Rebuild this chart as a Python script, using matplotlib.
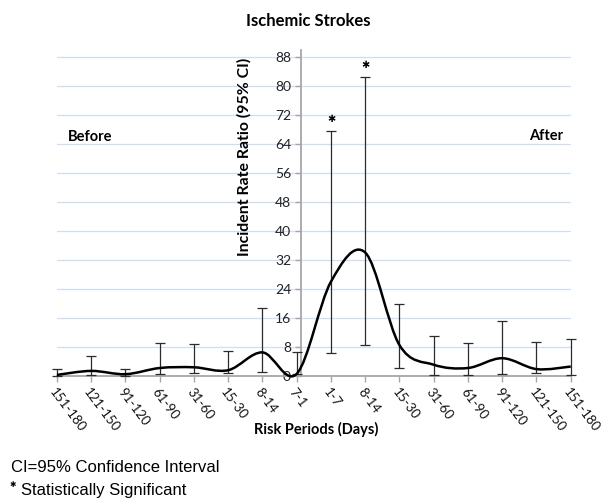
import matplotlib
matplotlib.use("Agg")
import matplotlib.pyplot as plt
from matplotlib.path import Path
from matplotlib.patches import PathPatch
import numpy as np

# ---- data ----
periods = ['151-180', '121-150', '91-120', '61-90', '31-60', '15-30', '8-14', '7-1',
           '1-7', '8-14', '15-30', '31-60', '61-90', '91-120', '121-150', '151-180']
irr = [0.3, 1.4, 0.5, 2.2, 2.4, 1.6, 6.5, 0.6, 26.0, 34.0, 8.5, 3.1, 2.2, 4.9, 1.9, 2.6]
ci_low = [0.05, 0.3, 0.1, 0.6, 0.7, 0.8, 1.1, 0.5, 6.3, 8.5, 2.2, 0.4, 0.3, 0.6, 0.7, 0.2]
ci_high = [1.9, 5.4, 2.0, 9.1, 8.7, 7.0, 18.7, 6.6, 67.6, 82.5, 19.7, 10.9, 9.2, 15.2, 9.4, 10.2]
significant = [False] * 8 + [True, True] + [False] * 6
y_ticks = list(range(0, 89, 8))

FONT = ['Lato', 'DejaVu Sans']
plt.rcParams['font.family'] = FONT

fig = plt.figure(figsize=(6.03, 4.98), dpi=100)
ax = fig.add_axes([0.0945, 0.245, 0.852, 0.6545])

x = np.arange(len(periods))
y = np.array(irr)

# smoothed line (Excel-style bezier through the points)
verts = [(x[0], y[0])]
codes = [Path.MOVETO]
n = len(x)
for i in range(n - 1):
    p0 = np.array([x[max(i - 1, 0)], y[max(i - 1, 0)]])
    p1 = np.array([x[i], y[i]])
    p2 = np.array([x[i + 1], y[i + 1]])
    p3 = np.array([x[min(i + 2, n - 1)], y[min(i + 2, n - 1)]])
    c1 = p1 + (p2 - p0) / 6.0
    c2 = p2 - (p3 - p1) / 6.0
    verts += [tuple(c1), tuple(c2), tuple(p2)]
    codes += [Path.CURVE4] * 3
ax.add_patch(PathPatch(Path(verts, codes), facecolor='none', edgecolor='black',
                       lw=1.8, zorder=4, clip_on=False))

# error bars
yerr = np.vstack([y - np.array(ci_low), np.array(ci_high) - y])
ax.errorbar(x, y, yerr=yerr, fmt='none', ecolor='#2b2b2b', elinewidth=0.9,
            capsize=3.6, capthick=0.9, zorder=3, clip_on=False)

# significance stars
for xi, hi, sig in zip(x, ci_high, significant):
    if sig:
        ax.annotate('✱', (xi, hi), xytext=(0, 5), textcoords='offset points',
                    ha='center', va='bottom', fontsize=7, color='black',
                    family=['DejaVu Sans'])

ax.set_xlim(0, 15)
ax.set_ylim(0, 89.8)
ax.set_yticks(y_ticks)
ax.set_yticklabels([str(t) for t in y_ticks])
ax.set_xticks(x)
ax.set_xticklabels(periods, rotation=-53, ha='left', rotation_mode='anchor',
                   fontsize=9.5, color='#111111')

for s in ['top', 'right']:
    ax.spines[s].set_visible(False)
ax.spines['left'].set_position(('data', 7.12))
for s in ['left', 'bottom']:
    ax.spines[s].set_color('#a6a6a6')
    ax.spines[s].set_linewidth(1.3)
ax.spines['bottom'].set_zorder(2)

ax.tick_params(axis='y', direction='out', length=4, width=1, color='#a6a6a6',
               labelsize=10, labelcolor='#222222', pad=3)
ax.tick_params(axis='x', direction='out', length=4, width=1, color='#a6a6a6', pad=3)

ax.yaxis.grid(True, color='#cfdff3', lw=0.9)
ax.set_axisbelow(True)
ax.patch.set_visible(False)

# texts
fig.text(0.511, 0.958, 'Ischemic Strokes', ha='center', va='center',
         fontsize=12, fontweight='bold')
fig.text(0.406, 0.684, 'Incident Rate Ratio (95% CI)', rotation=90, ha='center',
         va='center', fontsize=11.4, fontweight='bold')
fig.text(0.112, 0.725, 'Before', ha='left', va='center', fontsize=10.5, fontweight='bold')
fig.text(0.934, 0.727, 'After', ha='right', va='center', fontsize=10.5, fontweight='bold')
fig.text(0.524, 0.137, 'Risk Periods (Days)', ha='center', va='center',
         fontsize=10.5, fontweight='bold')

NOTE = ['Liberation Sans Narrow', 'Liberation Sans', 'DejaVu Sans']
fig.text(0.019, 0.061, 'CI=95% Confidence Interval', ha='left', va='center',
         fontsize=12, family=NOTE)
fig.text(0.015, 0.027, '✱', ha='left', va='center', fontsize=5.5,
         family=['DejaVu Sans'])
fig.text(0.035, 0.016, 'Statistically Significant', ha='left', va='center',
         fontsize=12, family=NOTE)

fig.savefig('out.png', dpi=100)
